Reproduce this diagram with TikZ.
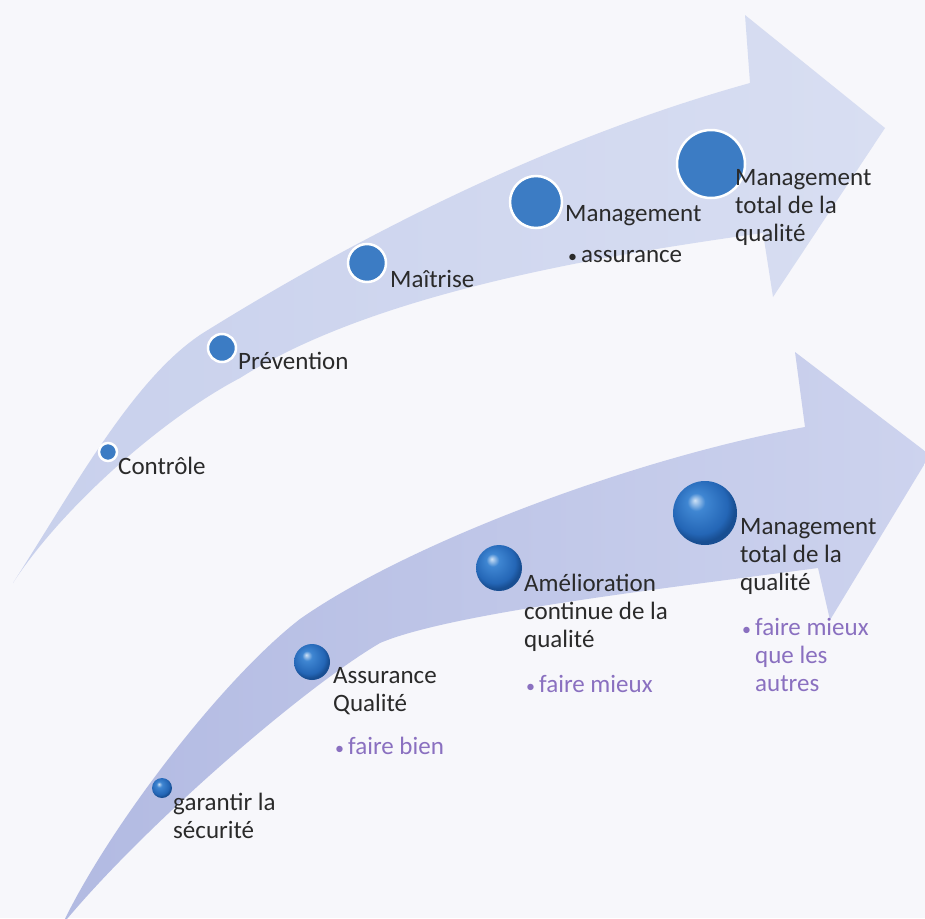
\documentclass[tikz,border=0pt]{standalone}
\usepackage{fontspec}
\setmainfont{Carlito}
\definecolor{pagebg}{HTML}{F7F7FB}
\definecolor{bandlo}{HTML}{C8D0EC}
\definecolor{bandhi}{HTML}{D8DEF2}
\definecolor{banddk}{HTML}{B2BAE2}
\definecolor{bandmd}{HTML}{CDD3EE}
\definecolor{dotblue}{HTML}{3C7CC4}
\definecolor{sphhi}{HTML}{CFE2F6}
\definecolor{sphmid}{HTML}{3F86D2}
\definecolor{sphblue}{HTML}{2466B6}
\definecolor{sphdk}{HTML}{184E92}
\definecolor{txtgray}{HTML}{2A2A2A}
\definecolor{subpurple}{HTML}{8A70C0}
\pgfdeclareradialshading{glass}{\pgfpoint{-8bp}{10bp}}{color(0bp)=(sphhi); color(7bp)=(sphmid);
  color(22bp)=(sphblue); color(27bp)=(sphdk); color(50bp)=(sphdk)}
\tikzset{
  flatdot/.style={circle, fill=dotblue, draw=white, line width=2.5pt, inner sep=0pt},
  glassdot/.style={circle, shading=glass, inner sep=0pt},
  lbl/.style={font=\fontsize{25}{28}\selectfont, text=txtgray, align=left,
    inner sep=0pt, anchor=north west, execute at begin node={\rule{0pt}{20pt}}}
}
\begin{document}
\begin{tikzpicture}[x=1pt, y=-1pt]
        \useasboundingbox (0,0) rectangle (925,918);
        \fill[pagebg] (0,0) rectangle (925,918);

        % Draw the upper arrow
        \shade[left color=bandlo, right color=bandhi]
          (13,583) .. controls (73,490) and (133,378) .. (203,333)
          .. controls (383,221) and (570,133) .. (750,83)
          -- (745,15) -- (885,128) -- (773,297) -- (763,233)
          .. controls (583,258) and (370,296) .. (240,378)
          .. controls (160,420) and (60,510) .. (13,583) -- cycle;

        % Draw the lower arrow
        \shade[left color=banddk, right color=bandmd]
          (62,925) .. controls (107,830) and (220,681) .. (300,619)
          .. controls (410,542) and (635,458) .. (805,427)
          -- (795,352) -- (930,455) -- (830,620) -- (818,568)
          .. controls (668,588) and (450,613) .. (380,643)
          .. controls (300,690) and (140,830) .. (62,925) -- cycle;

        % Draw the steps of the upper arrow
        \node[flatdot, minimum size=18pt] (dcontrole) at (108,452) {};
        \node[flatdot, minimum size=28pt] (dprevention) at (222,348) {};
        \node[flatdot, minimum size=38pt] (dmaitrise) at (367,263) {};
        \node[flatdot, minimum size=52pt] (dmanagement) at (536,202) {};
        \node[flatdot, minimum size=68pt] (dtotal) at (711,164) {};

        \node[lbl] (lcontrole) at (118,454) {Contrôle};
        \node[lbl] (lprevention) at (238,349) {Prévention};
        \node[lbl] (lmaitrise) at (390,267) {Maîtrise};
        \node[lbl] (lmanagement) at (565,205) {Management\\[13pt]\hspace{3pt}{\fontsize{18}{18}\selectfont•}\hspace{4pt}assurance};
        \node[lbl] (ltotal) at (735,169) {Management\\total de la\\qualité};

        % Draw the steps of the lower arrow
        \node[glassdot, minimum size=20pt] (sgarantir) at (162,788) {};
        \node[glassdot, minimum size=36pt] (sassurance) at (312,662) {};
        \node[glassdot, minimum size=46pt] (samelioration) at (499,568) {};
        \node[glassdot, minimum size=64pt] (stotal) at (705,513) {};

        \node[lbl] (lgarantir) at (173,793) {garantir la\\sécurité};
        \node[lbl] (lassurance) at (333,667) {Assurance\\Qualité\\[15pt]
          \textcolor{subpurple}{\hspace{2pt}{\fontsize{18}{18}\selectfont•}\hspace{4pt}faire bien}};
        \node[lbl] (lamelioration) at (524,574) {Amélioration\\continue de la\\qualité\\[17pt]
          \textcolor{subpurple}{\hspace{2pt}{\fontsize{18}{18}\selectfont•}\hspace{4pt}faire mieux}};
        \node[lbl] (ltotalbis) at (740,518) {Management\\total de la\\qualité\\[17pt]
          \textcolor{subpurple}{\hspace{2pt}{\fontsize{18}{18}\selectfont•}\hspace{4pt}faire mieux}\\
          \textcolor{subpurple}{\hphantom{\hspace{2pt}{\fontsize{18}{18}\selectfont•}\hspace{4pt}}que les}\\
          \textcolor{subpurple}{\hphantom{\hspace{2pt}{\fontsize{18}{18}\selectfont•}\hspace{4pt}}autres}};
    \end{tikzpicture}
\end{document}
